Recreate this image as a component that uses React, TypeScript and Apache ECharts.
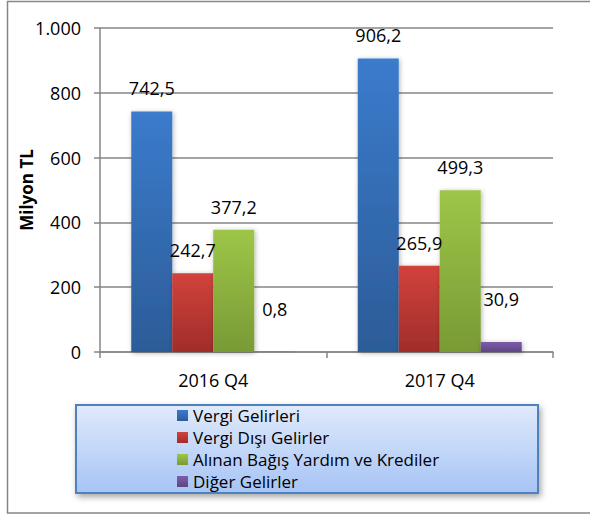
import React, { useEffect, useRef } from "react";
import * as echarts from "echarts";

const categories = ["2016 Q4", "2017 Q4"];
const seriesNames = [
  "Vergi Gelirleri",
  "Vergi Dışı Gelirler",
  "Alınan Bağış Yardım ve Krediler",
  "Diğer Gelirler",
];
const vergiGelirleri = [742.5, 906.2];
const vergiDisiGelirler = [242.7, 265.9];
const bagisYardimKrediler = [377.2, 499.3];
const digerGelirler = [0.8, 30.9];
const yTicks = [0, 200, 400, 600, 800, 1000];

const colorStops: [string, string][] = [
  ["#3b7bcc", "#2c5c98"],
  ["#d2423c", "#a02d2a"],
  ["#9dc648", "#799a35"],
  ["#7d5dab", "#5e4584"],
];

const FONT = "Open Sans";

function fmt(v: number): string {
  return v.toFixed(1).replace(".", ",");
}

export default function App() {
  const ref = useRef<HTMLDivElement>(null);
  useEffect(() => {
    if (!ref.current) return;
    const chart = echarts.init(ref.current, null, { renderer: "svg" });
    const allData = [vergiGelirleri, vergiDisiGelirler, bagisYardimKrediler, digerGelirler];
    const series = allData.map((arr, i) => ({
      name: seriesNames[i],
      type: "bar",
      barWidth: 41,
      barGap: "0%",
      itemStyle: {
        color: new echarts.graphic.LinearGradient(0, 0, 0, 1, [
          { offset: 0, color: colorStops[i][0] },
          { offset: 1, color: colorStops[i][1] },
        ]),
        shadowColor: "rgba(0,0,0,0.3)",
        shadowBlur: 5,
        shadowOffsetX: 1,
        shadowOffsetY: 1,
      },
      label: {
        show: true,
        position: "top",
        color: "#000",
        fontFamily: FONT,
        fontSize: 18,
        formatter: (p: any) => fmt(p.value),
      },
      data: arr.map((v) => ({
        value: v,
        label: { distance: v < 50 ? 34 : 14 },
      })),
    }));

    chart.setOption({
      animation: false,
      textStyle: { fontFamily: FONT },
      grid: { left: 100, right: 37, top: 28, bottom: 163, containLabel: false },
      xAxis: {
        type: "category",
        data: categories,
        axisLine: { lineStyle: { color: "#868686", width: 1.5 } },
        axisTick: { show: true, length: 6, lineStyle: { color: "#868686", width: 1.5 } },
        axisLabel: { color: "#000", fontSize: 18, fontFamily: FONT, margin: 19 },
      },
      yAxis: {
        type: "value",
        min: yTicks[0],
        max: yTicks[yTicks.length - 1],
        interval: yTicks[1] - yTicks[0],
        axisLine: { show: true, lineStyle: { color: "#868686", width: 1.5 } },
        axisTick: { show: true, length: 6, lineStyle: { color: "#868686", width: 1.5 } },
        splitLine: { lineStyle: { color: "#868686", width: 1.5 } },
        axisLabel: {
          color: "#000",
          fontSize: 18,
          fontFamily: FONT,
          margin: 19,
          formatter: (v: number) => (v >= 1000 ? v.toLocaleString("de-DE") : String(v)),
        },
      },
      legend: {
        orient: "vertical",
        left: 177,
        top: 407,
        padding: 0,
        itemWidth: 11,
        itemHeight: 11,
        itemGap: 5,
        icon: "rect",
        textStyle: { color: "#000", fontSize: 17, fontFamily: FONT, lineHeight: 17 },
        data: seriesNames,
      },
      graphic: [
        {
          type: "rect",
          shape: { x: 7.5, y: 1.5, width: 600, height: 511.5 },
          style: { fill: "none", stroke: "#878787", lineWidth: 1.5 },
          silent: true,
          z: -10,
        },
        {
          type: "rect",
          shape: { x: 76, y: 405, width: 462, height: 88 },
          style: {
            fill: new echarts.graphic.LinearGradient(0, 0, 0, 1, [
              { offset: 0, color: "#e0eafb" },
              { offset: 1, color: "#a6c4f5" },
            ]),
            stroke: "#4f81bd",
            lineWidth: 2,
            shadowColor: "rgba(0,0,0,0.35)",
            shadowBlur: 6,
            shadowOffsetX: 2,
            shadowOffsetY: 3,
          },
          silent: true,
          z: -5,
        },
        {
          type: "text",
          x: 26,
          y: 190,
          rotation: Math.PI / 2,
          style: {
            text: "Milyon TL",
            fill: "#000",
            font: `bold 17px "${FONT}"`,
            align: "center",
            verticalAlign: "middle",
          },
          silent: true,
        },
      ],
      series,
    });
    return () => chart.dispose();
  }, []);
  return (
    <div
      ref={ref}
      style={{ position: "fixed", left: 0, top: 0, width: 590, height: 515, background: "#fff" }}
    />
  );
}
